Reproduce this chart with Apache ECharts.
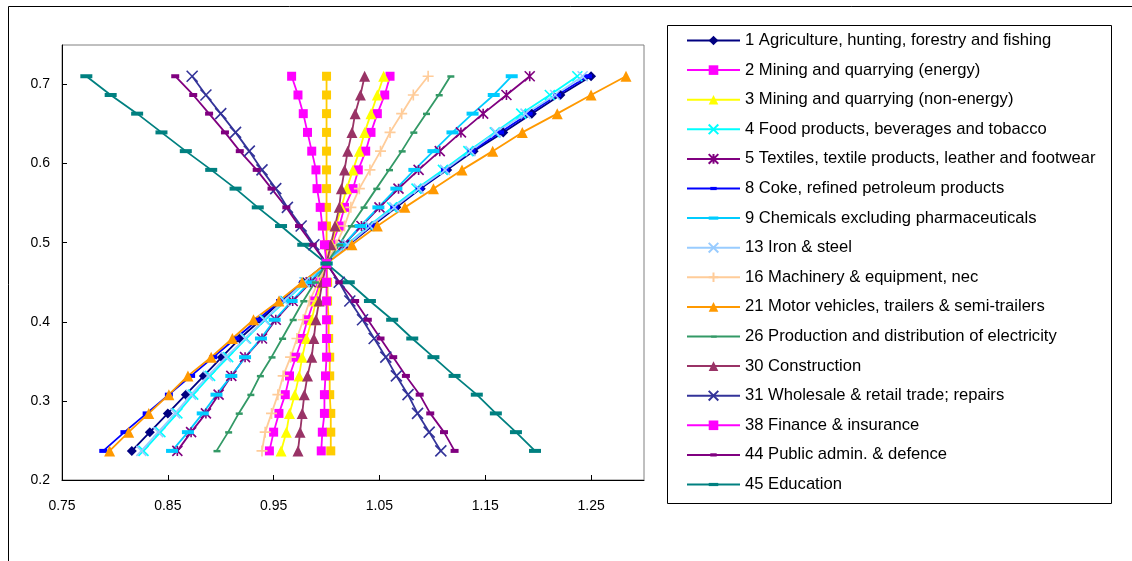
<!DOCTYPE html>
<html>
<head>
<meta charset="utf-8">
<script src="https://cdn.jsdelivr.net/npm/echarts@6/dist/echarts.min.js"></script>
<style>
  html, body { margin: 0; padding: 0; background: #fff; }
  #chart { width: 1132px; height: 561px; }
</style>
</head>
<body>
<div id="chart"></div>
<script>
// Shared vertical levels (bottom to top) at which every sector is evaluated
const yLevels = [0.2368, 0.2605, 0.2842, 0.3079, 0.3316, 0.3553, 0.3789, 0.4026, 0.4263, 0.4500, 0.4737,
                 0.4974, 0.5211, 0.5447, 0.5684, 0.5921, 0.6158, 0.6395, 0.6632, 0.6868, 0.7105];

// Horizontal value of each sector at the levels above
const agriculture1 = [0.816, 0.833, 0.850, 0.867, 0.884, 0.901, 0.918, 0.938, 0.957, 0.978, 1.000, 1.021, 1.043, 1.066, 1.089, 1.114, 1.139, 1.167, 1.194, 1.221, 1.250];
const miningEnergy2 = [0.946, 0.950, 0.955, 0.961, 0.965, 0.971, 0.977, 0.982, 0.988, 0.994, 1.000, 1.005, 1.012, 1.017, 1.025, 1.030, 1.037, 1.042, 1.048, 1.055, 1.060];
const miningNonEnergy3 = [0.957, 0.962, 0.965, 0.970, 0.974, 0.977, 0.981, 0.986, 0.990, 0.995, 1.000, 1.005, 1.009, 1.014, 1.019, 1.025, 1.031, 1.036, 1.042, 1.048, 1.054];
const food4 = [0.827, 0.843, 0.859, 0.874, 0.890, 0.907, 0.924, 0.942, 0.961, 0.980, 1.000, 1.019, 1.040, 1.062, 1.085, 1.110, 1.134, 1.159, 1.184, 1.211, 1.237];
const textiles5 = [0.859, 0.872, 0.886, 0.898, 0.910, 0.923, 0.939, 0.952, 0.968, 0.985, 1.000, 1.016, 1.033, 1.050, 1.068, 1.087, 1.107, 1.127, 1.148, 1.170, 1.192];
const coke8 = [0.789, 0.809, 0.830, 0.851, 0.872, 0.893, 0.914, 0.935, 0.956, 0.978, 1.000, 1.020, 1.042, 1.064, 1.088, 1.112, 1.137, 1.164, 1.191, 1.218, 1.247];
const chemicals9 = [0.854, 0.869, 0.883, 0.896, 0.910, 0.923, 0.938, 0.951, 0.967, 0.984, 1.000, 1.016, 1.032, 1.049, 1.066, 1.083, 1.101, 1.119, 1.138, 1.158, 1.175];
const ironSteel13 = [0.825, 0.841, 0.857, 0.872, 0.888, 0.905, 0.923, 0.941, 0.960, 0.979, 1.000, 1.020, 1.041, 1.064, 1.087, 1.112, 1.136, 1.160, 1.188, 1.216, 1.242];
const machinery16 = [0.939, 0.942, 0.948, 0.954, 0.959, 0.966, 0.972, 0.978, 0.984, 0.992, 1.000, 1.009, 1.017, 1.023, 1.031, 1.041, 1.051, 1.060, 1.071, 1.082, 1.096];
const motorVehicles21 = [0.795, 0.813, 0.832, 0.851, 0.869, 0.891, 0.911, 0.931, 0.955, 0.977, 1.000, 1.024, 1.048, 1.074, 1.101, 1.128, 1.157, 1.185, 1.218, 1.250, 1.283];
const electricity26 = [0.896, 0.907, 0.917, 0.928, 0.937, 0.948, 0.958, 0.968, 0.978, 0.989, 1.000, 1.012, 1.023, 1.035, 1.047, 1.059, 1.071, 1.082, 1.094, 1.106, 1.117];
const construction30 = [0.973, 0.975, 0.977, 0.979, 0.982, 0.986, 0.988, 0.990, 0.993, 0.996, 1.000, 1.004, 1.008, 1.012, 1.014, 1.017, 1.020, 1.024, 1.027, 1.032, 1.036];
const wholesale31 = [1.108, 1.097, 1.086, 1.077, 1.066, 1.056, 1.045, 1.034, 1.022, 1.012, 1.000, 0.988, 0.976, 0.963, 0.952, 0.939, 0.927, 0.914, 0.900, 0.886, 0.873];
const finance38 = [0.995, 0.996, 0.998, 0.998, 0.999, 1.000, 1.000, 1.000, 1.000, 1.000, 1.000, 0.998, 0.996, 0.994, 0.991, 0.990, 0.986, 0.982, 0.978, 0.973, 0.967];
const publicAdmin44 = [1.121, 1.111, 1.098, 1.088, 1.075, 1.063, 1.051, 1.039, 1.027, 1.012, 1.000, 0.987, 0.974, 0.962, 0.948, 0.934, 0.918, 0.904, 0.889, 0.874, 0.857];
const education45 = [1.197, 1.179, 1.160, 1.142, 1.121, 1.101, 1.081, 1.062, 1.041, 1.021, 1.000, 0.978, 0.957, 0.935, 0.914, 0.891, 0.867, 0.844, 0.821, 0.796, 0.773];
const allSectors = [1.004, 1.004, 1.004, 1.003, 1.003, 1.003, 1.002, 1.002, 1.001, 1.001, 1.000, 1.000, 1.000, 1.000, 1.000, 1.000, 1.000, 1.000, 1.000, 1.000, 1.000];

// Axis ranges
const xRange = [0.75, 1.30];
const yRange = [0.2, 0.75];
const tickStep = 0.1;

// Marker shapes (the dash shapes carry a square frame of move-to points so
// they keep their flat proportions inside the square legend icon box)
const SYM_X = 'path://M0,0L10,10M10,0L0,10';
const SYM_PLUS = 'path://M5,0L5,10M0,5L10,5';
const SYM_STAR = 'path://M0,0L10,10M10,0L0,10M5,0L5,10';
const SYM_DASH = 'path://M0,0M12,12M0,4H12V8H0Z';
const SYM_SHORT = 'path://M0,0M12,12M2,4H10V8H2Z';
const SYM_THIN = 'path://M0,0M12,12M3,5H10V7.5H3Z';

// Sector name, values and how each line is drawn
const sectors = [
  { name: 'All sectors', values: allSectors, color: '#FFCC00', symbol: 'rect', size: 9, legend: false },
  { name: '1 Agriculture, hunting, forestry and fishing', values: agriculture1, color: '#000080', symbol: 'diamond', size: 10 },
  { name: '2 Mining and quarrying (energy)', values: miningEnergy2, color: '#FF00FF', symbol: 'rect', size: 9 },
  { name: '3 Mining and quarrying (non-energy)', values: miningNonEnergy3, color: '#FFFF00', symbol: 'triangle', size: 11 },
  { name: '4 Food products, beverages and tobacco', values: food4, color: '#00FFFF', symbol: SYM_X, size: 10, stroke: true },
  { name: '5 Textiles, textile products, leather and footwear', values: textiles5, color: '#800080', symbol: SYM_STAR, size: 10, stroke: true },
  { name: '8 Coke, refined petroleum products', values: coke8, color: '#0000FF', symbol: SYM_SHORT, size: 12 },
  { name: '9 Chemicals excluding pharmaceuticals', values: chemicals9, color: '#00CCFF', symbol: SYM_DASH, size: 12 },
  { name: '13 Iron & steel', values: ironSteel13, color: '#99CCFF', symbol: SYM_X, size: 10, stroke: true },
  { name: '16 Machinery & equipment, nec', values: machinery16, color: '#FFCC99', symbol: SYM_PLUS, size: 11, stroke: true },
  { name: '21 Motor vehicles, trailers & semi-trailers', values: motorVehicles21, color: '#FF9900', symbol: 'triangle', size: 11 },
  { name: '26 Production and distribution of electricity', values: electricity26, color: '#339966', symbol: SYM_THIN, size: 12 },
  { name: '30 Construction', values: construction30, color: '#993366', symbol: 'triangle', size: 11 },
  { name: '31 Wholesale & retail trade; repairs', values: wholesale31, color: '#333399', symbol: SYM_X, size: 11, stroke: true },
  { name: '38 Finance & insurance', values: finance38, color: '#FF00FF', symbol: 'rect', size: 9 },
  { name: '44 Public admin. & defence', values: publicAdmin44, color: '#800080', symbol: SYM_SHORT, size: 12 },
  { name: '45 Education', values: education45, color: '#008080', symbol: SYM_DASH, size: 12 }
];

const FONT = "'Liberation Sans', Arial, sans-serif";

const series = sectors.map(s => ({
  name: s.name,
  type: 'line',
  data: s.values.map((v, i) => [v, yLevels[i]]),
  symbol: s.symbol,
  symbolSize: s.size,
  symbolKeepAspect: true,
  showSymbol: true,
  lineStyle: { color: s.color, width: 1.8 },
  itemStyle: s.stroke
    ? { color: s.color, borderColor: s.color, borderWidth: 1.6 }
    : { color: s.color, borderWidth: 0 },
  emphasis: { disabled: true },
  animation: false,
  z: 2
}));

const chart = echarts.init(document.getElementById('chart'), null, { renderer: 'canvas' });
chart.setOption({
  backgroundColor: '#ffffff',
  animation: false,
  textStyle: { fontFamily: FONT },
  grid: {
    left: 62, top: 45, right: 488, bottom: 81,
    show: true, borderColor: '#808080', borderWidth: 1, backgroundColor: '#ffffff'
  },
  xAxis: {
    type: 'value',
    min: xRange[0], max: xRange[1], interval: tickStep,
    axisLine: { show: true, lineStyle: { color: '#000', width: 1 } },
    axisTick: { show: true, inside: true, length: 5, lineStyle: { color: '#000' } },
    axisLabel: { showMaxLabel: false, color: '#000', fontSize: 14, fontFamily: FONT, margin: 19 },
    splitLine: { show: false }
  },
  yAxis: {
    type: 'value',
    min: yRange[0], max: yRange[1], interval: tickStep,
    axisLine: { show: true, lineStyle: { color: '#000', width: 1 } },
    axisTick: { show: true, inside: true, length: 5, lineStyle: { color: '#000' } },
    axisLabel: { showMaxLabel: false, color: '#000', fontSize: 14, fontFamily: FONT, margin: 12 },
    splitLine: { show: false }
  },
  legend: {
    orient: 'vertical',
    left: 686, top: 32,
    padding: 0,
    itemWidth: 53, itemHeight: 12, itemGap: 12.6,
    data: sectors.filter(s => s.legend !== false).map(s => s.name),
    textStyle: { color: '#000', fontSize: 16.6, fontFamily: FONT, lineHeight: 17 },
    selectedMode: false
  },
  graphic: [
    { type: 'rect', silent: true, z: -10,
      shape: { x: 8.5, y: 6.5, width: 1200, height: 700 },
      style: { fill: null, stroke: '#000', lineWidth: 1 } },
    { type: 'rect', silent: true, z: -5,
      shape: { x: 667.5, y: 25.5, width: 444, height: 478 },
      style: { fill: '#fff', stroke: '#000', lineWidth: 1 } }
  ],
  series: series
});
</script>
</body>
</html>
